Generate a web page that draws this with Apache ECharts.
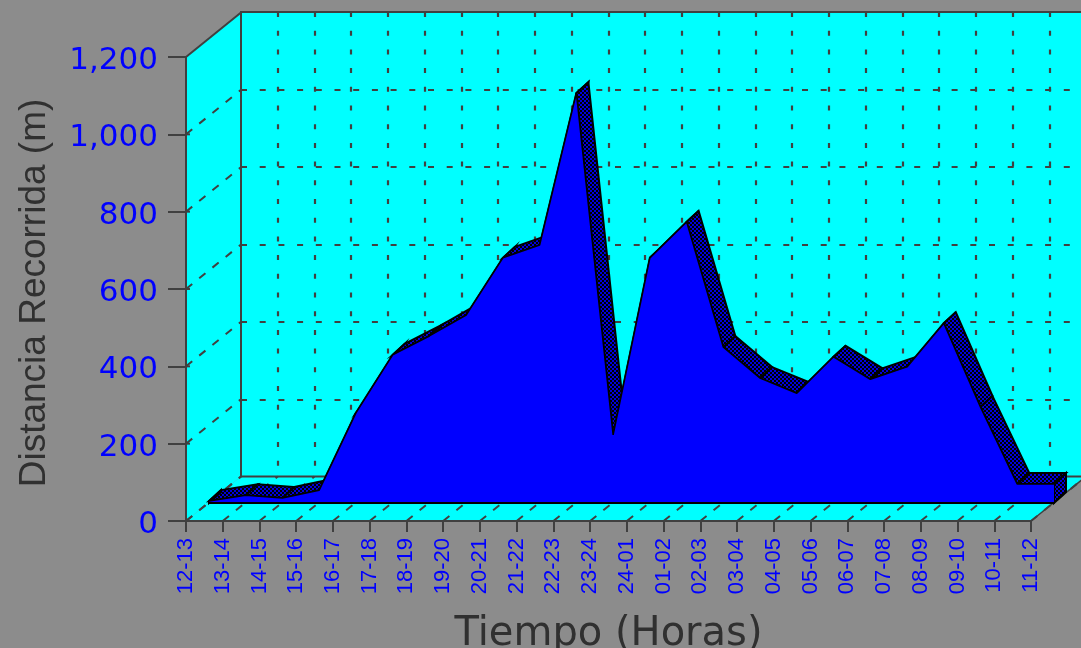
<!DOCTYPE html>
<html><head><meta charset="utf-8">
<style>html,body{margin:0;padding:0;background:#8c8c8c}#c{width:1081px;height:648px}</style>
<script src="https://cdn.jsdelivr.net/npm/echarts@6/dist/echarts.min.js"></script>
</head><body><div id="c"></div>
<script>
const categories = ['12-13','13-14','14-15','15-16','16-17','17-18','18-19','19-20','20-21','21-22','22-23','23-24','24-01','01-02','02-03','03-04','04-05','05-06','06-07','07-08','08-09','09-10','10-11','11-12'];
const distance = [5,20,13,33,233,383,432,486,634,667,1060,176,634,727,403,323,284,378,320,352,465,248,49,49];
const yTicks = [0,200,400,600,800,1000,1200];
const yMax = 1200;

const GRID = '#404040', W = 845, H = 464;
const DEPTH = [55,-44.5], EXTR = [12,-11];
const pc = document.createElement('canvas'); pc.width = 4; pc.height = 4;
const g = pc.getContext('2d');
g.fillStyle = '#000'; g.fillRect(0,0,4,4);
g.fillStyle = '#0000e0'; g.fillRect(0,0,2,2); g.fillRect(2,2,2,2);
const hatch = {image: pc, repeat: 'repeat'};
const font = {fontFamily: '"DejaVu Sans",sans-serif'};

const chart = echarts.init(document.getElementById('c'), null, {renderer:'canvas'});
const hiddenY = i => ({type:'value', gridIndex:i, min:0, max:yMax, interval:200, axisLine:{show:false}, axisTick:{show:false}, axisLabel:{show:false}, splitLine:{show:false}});

function poly(pts, fill, stroke, lw){
  return {type:'polygon', shape:{points:pts}, style:{fill:fill, stroke:stroke, lineWidth:lw||0}};
}
function sline(a, b, lw){
  return {type:'line', shape:{x1:a[0],y1:a[1],x2:b[0],y2:b[1]}, style:{stroke:GRID, lineWidth:lw||2}};
}
function dline(a, b){
  return {type:'line', shape:{x1:a[0],y1:a[1],x2:b[0],y2:b[1]}, style:{stroke:GRID, lineWidth:2, lineDash:[8,9]}};
}
const shift = (p,d) => [p[0]+d[0], p[1]+d[1]];

chart.setOption({
  animation:false,
  backgroundColor:'#8c8c8c',
  grid:[
    {left:241, top:12, width:W, height:H+1, show:true, backgroundColor:'#00ffff', borderColor:GRID, borderWidth:2, outerBoundsMode:'none', containLabel:false},
    {left:186, top:57, width:W, height:H, outerBoundsMode:'none', containLabel:false},
    {left:209, top:39, width:W, height:H, outerBoundsMode:'none', containLabel:false}
  ],
  xAxis:[
    {type:'category', gridIndex:0, data:categories, boundaryGap:false, axisLine:{show:false}, axisTick:{show:false}, axisLabel:{show:false},
      splitLine:{show:true, interval:0, showMinLine:false, showMaxLine:false, lineStyle:{color:GRID, width:2.2, type:[5,13.7]}}},
    {type:'category', gridIndex:1, data:categories, boundaryGap:false, z:6,
      axisLine:{lineStyle:{color:GRID,width:2}}, axisTick:{alignWithLabel:true, interval:0, length:11, lineStyle:{color:GRID,width:2}},
      axisLabel:{interval:0, rotate:90, margin:17, color:'#0000ff', fontSize:22, fontFamily:'"Liberation Sans",sans-serif'},
      name:'Tiempo (Horas)', nameLocation:'middle', nameGap:94,
      nameTextStyle:Object.assign({color:'#303030', fontSize:40}, font)},
    {type:'category', gridIndex:2, data:categories, boundaryGap:false, z:6,
      axisLine:{lineStyle:{color:'#000',width:2}}, axisTick:{show:false}, axisLabel:{show:false}}
  ],
  yAxis:[
    Object.assign(hiddenY(0), {splitLine:{show:true, showMinLine:false, showMaxLine:false, lineStyle:{color:GRID, width:2.2, type:[6,12.7]}}}),
    {type:'value', gridIndex:1, min:0, max:yMax, interval:200, z:6,
      axisLine:{show:true, lineStyle:{color:GRID,width:2}},
      axisTick:{show:true, length:18, lineStyle:{color:GRID,width:2}},
      axisLabel:Object.assign({margin:28, color:'#0000ff', fontSize:31, verticalAlign:'top', lineHeight:8, formatter:v=>v.toLocaleString('en-US')}, font),
      splitLine:{show:false},
      name:'Distancia Recorrida (m)', nameLocation:'middle', nameGap:133,
      nameTextStyle:{color:'#303030', fontSize:37, padding:[0,8,0,0], fontFamily:'"Liberation Sans",sans-serif'}},
    hiddenY(2)
  ],
  series:[
    {type:'custom', xAxisIndex:1, yAxisIndex:1, z:1, silent:true, clip:false, data:[0],
      renderItem:(p,api)=>{
        const o=api.coord([0,0]), t=api.coord([0,yMax]), r=api.coord([categories.length-1,0]);
        return {type:'group', children:[
          poly([t,shift(t,DEPTH),shift(o,DEPTH),o],'#00ffff'),
          poly([o,shift(o,DEPTH),shift(r,DEPTH),r],'#00ffff'),
          sline(t,shift(t,DEPTH)), sline(shift(o,DEPTH),shift(t,DEPTH)),
          sline(shift(o,DEPTH),shift(r,DEPTH)), sline(r,shift(r,DEPTH),1.5)
        ]};
      }},
    {type:'custom', xAxisIndex:1, yAxisIndex:1, z:1.5, silent:true, clip:false, data:yTicks.slice(0,-1).map(v=>[0,v]),
      renderItem:(p,api)=>{ const a=api.coord([0,api.value(1)]); return {type:'group',children:[dline(a,shift(a,DEPTH)), sline(a,shift(a,[4,0]))]}; }},
    {type:'custom', xAxisIndex:1, yAxisIndex:1, z:1.5, silent:true, clip:false, data:categories.map((c,i)=>[i,0]),
      renderItem:(p,api)=>{ const a=api.coord([api.value(0),0]); return dline(a,shift(a,DEPTH)); }},
    {type:'custom', xAxisIndex:2, yAxisIndex:2, z:3, silent:true, clip:false,
      data:distance.map((v,i)=>[i,v]),
      renderItem:(p,api)=>{
        const i=api.value(0), a=api.coord([i,api.value(1)]), kids=[];
        if(i<distance.length-1){
          const b=api.coord([i+1,distance[i+1]]);
          kids.push(poly([a,b,shift(b,EXTR),shift(a,EXTR)],hatch,'#000',2));
        }
        if(i===0||i===distance.length-1){
          const z=api.coord([i,0]);
          kids.push(poly([a,z,shift(z,EXTR),shift(a,EXTR)],hatch,'#000',2));
        }
        return {type:'group',children:kids};
      }},
    {type:'line', name:'Distancia', xAxisIndex:2, yAxisIndex:2, z:4, data:distance, symbol:'none', smooth:false,
      lineStyle:{color:'#000',width:1.5}, areaStyle:{color:'#0000ff',opacity:1}}
  ]
});
</script></body></html>
